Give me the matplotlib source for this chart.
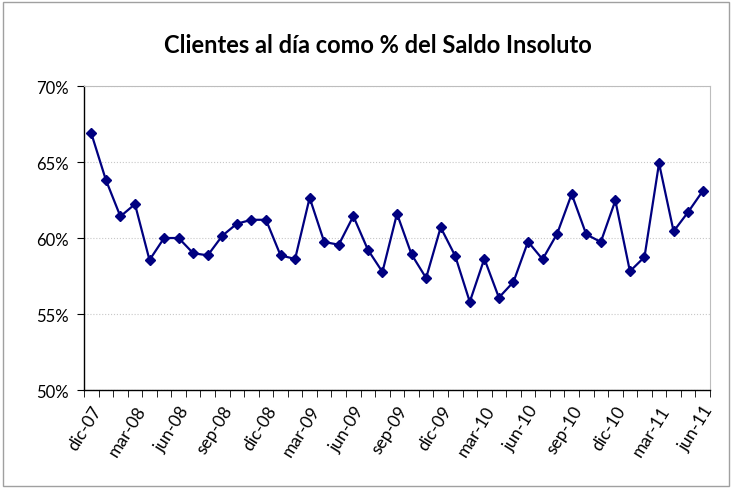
import matplotlib
matplotlib.use("Agg")
import matplotlib.pyplot as plt
from matplotlib.patches import Rectangle
from matplotlib.ticker import FuncFormatter

# Monthly series dic-07 .. jun-11 (%)
months = ["dic", "ene", "feb", "mar", "abr", "may", "jun", "jul", "ago", "sep", "oct", "nov"]
years = ["07"] + ["08"] * 12 + ["09"] * 12 + ["10"] * 12 + ["11"] * 6
labels = [f"{months[i % 12]}-{y}" for i, y in enumerate(years)]
values = [66.89, 63.83, 61.42, 62.23, 58.55, 60.00, 60.00, 59.00, 58.86, 60.15,
          60.94, 61.20, 61.20, 58.86, 58.62, 62.65, 59.74, 59.56, 61.44, 59.23,
          57.77, 61.60, 58.92, 57.37, 60.70, 58.82, 55.80, 58.64, 56.08, 57.11,
          59.76, 58.60, 60.28, 62.89, 60.24, 59.74, 62.47, 57.81, 58.75, 64.92,
          60.44, 61.71, 63.09]
y_ticks = [50, 55, 60, 65, 70]

plt.rcParams['font.family'] = ['Lato', 'DejaVu Sans']

fig = plt.figure(figsize=(7.33, 4.89), dpi=100)
ax = fig.add_axes([0.1146, 0.2004, 0.854, 0.6216])

x = list(range(len(values)))
ax.plot(x, values, color='#000080', linewidth=1.6, marker='D',
        markersize=5.5, markerfacecolor='#000080', markeredgecolor='#000080', zorder=3)

ax.set_xlim(-0.5, len(values) - 0.5)
ax.set_ylim(50, 70)
ax.set_yticks(y_ticks)
ax.yaxis.set_major_formatter(FuncFormatter(lambda v, p: f"{v:.0f}%"))
ax.grid(axis='y', color='#c8c8c8', linestyle=':', linewidth=0.8)

# category axis: labels every 3 months, tick marks at category boundaries
ax.set_xticks(x[::3])
ax.set_xticklabels(labels[::3], rotation=58, ha='right', rotation_mode='anchor')
ax.set_xticks([i - 0.5 for i in range(len(values) + 1)], minor=True)
ax.tick_params(axis='x', which='major', length=0, pad=9, labelsize=12.5)
ax.tick_params(axis='x', which='minor', length=5, direction='out', color='black')
ax.tick_params(axis='y', length=5, direction='out', labelsize=12, pad=6)

for side in ['top', 'right']:
    ax.spines[side].set_color('#bdbdbd')
for side in ['left', 'bottom']:
    ax.spines[side].set_color('black')
    ax.spines[side].set_linewidth(1.0)

fig.text(0.516, 0.906, "Clientes al día como % del Saldo Insoluto",
         ha='center', va='center', fontsize=17, fontweight='bold')

# chart border
fig.patches.append(Rectangle((0.004, 0.004), 0.99, 0.99, transform=fig.transFigure,
                             fill=False, edgecolor='#a0a0a0', linewidth=1.0))

fig.savefig("out.png", dpi=100)
